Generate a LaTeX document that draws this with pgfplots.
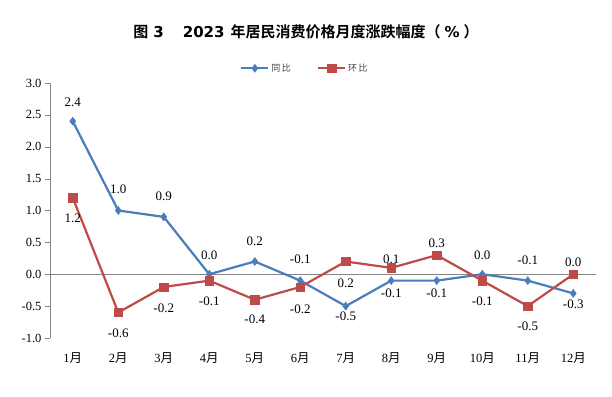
\documentclass[border=0pt]{standalone}
\usepackage{fontspec}
\setmainfont{Liberation Serif}
\newfontfamily\cjk{Noto Sans CJK SC}
\newfontfamily\cjkb{Noto Sans CJK SC Bold}
\newfontfamily\deja{DejaVu Sans}
\usepackage{pgfplots}
\usepackage{pgfplotstable}
\pgfplotsset{compat=1.18}
\definecolor{cblue}{RGB}{74,126,187}
\definecolor{cred}{RGB}{190,75,72}
\definecolor{axgray}{RGB}{134,134,134}
\pgfplotstableread{
x y lab dy
1 2.4 2.4 19
2 1.0 1.0 21
3 0.9 0.9 21
4 0.0 0.0 19
5 0.2 0.2 20
6 -0.1 -0.1 21
7 -0.5 -0.5 -10
8 -0.1 -0.1 -13
9 -0.1 -0.1 -13
10 0.0 0.0 19
11 -0.1 -0.1 20
12 -0.3 -0.3 -11
}\tongbi
\pgfplotstableread{
x y lab dy
1 1.2 1.2 -21
2 -0.6 -0.6 -21
3 -0.2 -0.2 -21
4 -0.1 -0.1 -21
5 -0.4 -0.4 -20
6 -0.2 -0.2 -22
7 0.2 0.2 -22
8 0.1 0.1 9
9 0.3 0.3 12
10 -0.1 -0.1 -21
11 -0.5 -0.5 -20
12 0.0 0.0 12
}\huanbi
\begin{document}
\begin{tikzpicture}
\path[use as bounding box] (0,0) rectangle (612pt,396pt);
\node[font=\cjkb\fontsize{15}{17}\selectfont, inner sep=0pt] at (306pt,364pt) {图\hspace{5pt}{\deja\bfseries 3}\hspace{19pt}{\deja\bfseries 2023}\hspace{6pt}年居民消费价格月度涨跌幅度（\hspace{4pt}{\deja\bfseries\%}\hspace{4pt}）};
\begin{axis}[
  at={(50pt,58pt)}, anchor=south west,
  scale only axis, width=546pt, height=255pt,
  xmin=0.5, xmax=12.5, ymin=-1, ymax=3,
  axis x line=bottom, axis y line=left,
  x axis line style={draw=none},
  y axis line style={-, draw=axgray},
  xtick={1,...,12},
  xticklabels={1{\cjk 月},2{\cjk 月},3{\cjk 月},4{\cjk 月},5{\cjk 月},6{\cjk 月},7{\cjk 月},8{\cjk 月},9{\cjk 月},10{\cjk 月},11{\cjk 月},12{\cjk 月}},
  xtick style={draw=none},
  xticklabel style={font=\fontsize{12.5}{14}\selectfont, yshift=-6pt},
  ytick={-1,-0.5,...,3},
  ytick style={draw=axgray},
  tick align=outside, major tick length=5pt,
  yticklabel style={font=\fontsize{12.5}{14}\selectfont},
  /pgf/number format/assume math mode=true,
  yticklabel={\pgfmathprintnumber[fixed,fixed zerofill,precision=1]{\tick}},
  legend columns=2,
  legend style={draw=none, fill=none, at={(0.467,1)}, anchor=south, yshift=6pt,
    font=\cjk\fontsize{9}{11}\selectfont, text=black!75,
    /tikz/every even column/.append style={column sep=24pt}},
  legend image code/.code={\draw[mark repeat=2,mark phase=2] plot coordinates {(0pt,0pt)(13.5pt,0pt)(27pt,0pt)};},
  clip=false,
]
\addplot[axgray, line width=0.6pt, forget plot] coordinates {(0.5,0) (12.5,0)};
\addplot[cblue, line width=2.2pt, mark=diamond*, mark size=4pt, mark options={solid, fill=cblue, line width=0.5pt}]
  table[x=x, y=y] {\tongbi};
\addlegendentry{同\,比}
\addplot[cred, line width=2.2pt, mark=square*, mark size=4.2pt, mark options={solid, fill=cred, line width=0.5pt}]
  table[x=x, y=y] {\huanbi};
\addlegendentry{环\,比}
\addplot[draw=none, mark=none, forget plot,
  nodes near coords, point meta=explicit symbolic,
  visualization depends on={\thisrow{dy} \as \dy},
  every node near coord/.append style={anchor=center, yshift=\dy, text=black, font=\fontsize{13}{15}\selectfont}]
  table[x=x, y=y, meta=lab] {\tongbi};
\addplot[draw=none, mark=none, forget plot,
  nodes near coords, point meta=explicit symbolic,
  visualization depends on={\thisrow{dy} \as \dy},
  every node near coord/.append style={anchor=center, yshift=\dy, text=black, font=\fontsize{13}{15}\selectfont}]
  table[x=x, y=y, meta=lab] {\huanbi};
\end{axis}
\end{tikzpicture}
\end{document}
